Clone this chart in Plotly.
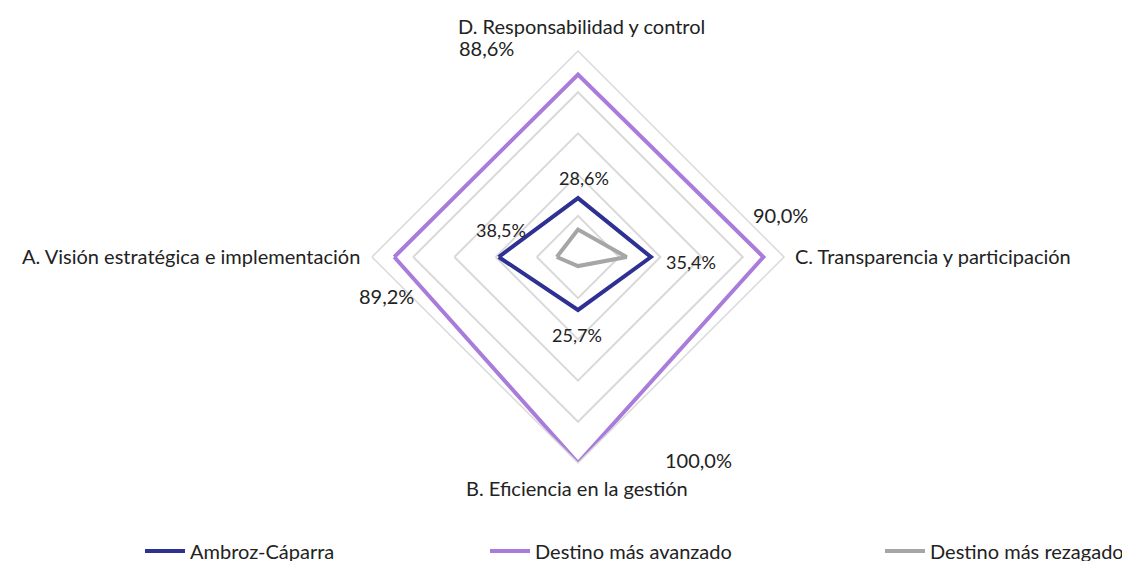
import plotly.graph_objects as go

categories = ["A. Visión estratégica e implementación", "B. Eficiencia en la gestión",
              "C. Transparencia y participación", "D. Responsabilidad y control"]
ambroz = [38.5, 25.7, 35.4, 28.6]
avanzado = [89.2, 100.0, 90.0, 88.6]
rezagado = [10.3, 4.4, 23.6, 13.3]

series_names = ["Ambroz-Cáparra", "Destino más avanzado", "Destino más rezagado"]
series_colors = ["#2E3192", "#A97BDB", "#A6A6A6"]
series_values = [ambroz, avanzado, rezagado]
legend_ids = ["legend", "legend2", "legend3"]

FONT = "Lato"
TXT = "#222222"
W, H = 1130, 561
OFF = 8  # page body margin of the html page


def px_x(x):
    return (x - OFF) / W


def px_y(y):
    return 1 - (y - OFF) / H


fig = go.Figure()
for name, color, vals, lg in zip(series_names, series_colors, series_values, legend_ids):
    fig.add_trace(go.Scatterpolar(
        r=[v / 100 for v in vals] + [vals[0] / 100],
        theta=categories + [categories[0]],
        mode="lines",
        line=dict(color=color, width=4),
        name=name,
        legend=lg,
        hoverinfo="skip",
    ))

# category labels (screen pixel anchor positions)
cat_pos = [(362, 256, "right"), (577, 488, "center"), (793, 256, "left"), (581, 26, "center")]
for cat, (x, y, anchor) in zip(categories, cat_pos):
    fig.add_annotation(
        x=px_x(x), y=px_y(y), xref="paper", yref="paper", text=cat, showarrow=False,
        font=dict(family=FONT, size=20, color=TXT), xanchor=anchor, yanchor="middle",
    )

# data labels (screen pixel positions of label centres)
label_pos_avz = [(386, 296), (698, 460), (780, 215), (486, 48)]
label_pos_amb = [(501, 230), (577, 335), (691, 262), (584, 178)]
for vals, poss, size in [(avanzado, label_pos_avz, 20), (ambroz, label_pos_amb, 18)]:
    for v, (x, y) in zip(vals, poss):
        fig.add_annotation(
            x=px_x(x), y=px_y(y), xref="paper", yref="paper",
            text=f"{v:.1f}%".replace(".", ","), showarrow=False,
            font=dict(family=FONT, size=size, color=TXT),
            xanchor="center", yanchor="middle",
        )

grid_color = "#D9D9D9"
fig.update_layout(
    width=W, height=H,
    margin=dict(l=0, r=0, t=0, b=0, autoexpand=False),
    paper_bgcolor="white",
    plot_bgcolor="white",
    font=dict(family=FONT, size=20, color=TXT),
    polar=dict(
        domain=dict(x=[px_x(372), px_x(784)], y=[px_y(463), px_y(51)]),
        bgcolor="white",
        gridshape="linear",
        radialaxis=dict(range=[0, 1], tickvals=[0.2, 0.4, 0.6, 0.8, 1.0],
                        showticklabels=False, ticks="", showline=False,
                        gridcolor=grid_color, gridwidth=1.5),
        angularaxis=dict(rotation=180, direction="counterclockwise",
                         showgrid=False, showline=True, linecolor=grid_color,
                         linewidth=1.5, ticks="", showticklabels=False),
    ),
    showlegend=True,
)
legend_common = dict(orientation="h", yanchor="middle", xanchor="left",
                     itemwidth=40,
                     font=dict(family=FONT, size=20, color=TXT),
                     bgcolor="rgba(0,0,0,0)", borderwidth=0)
fig.update_layout(
    legend=dict(x=px_x(140), y=px_y(551), **legend_common),
    legend2=dict(x=px_x(485), y=px_y(551), **legend_common),
    legend3=dict(x=px_x(880), y=px_y(551), **legend_common),
)

fig.write_html("out.html")
